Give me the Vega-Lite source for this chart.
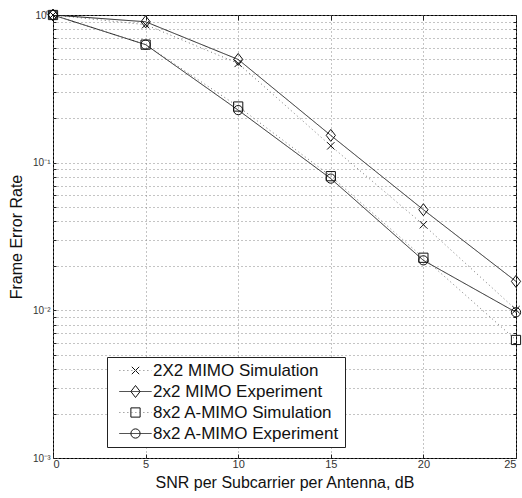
{
  "$schema": "https://vega.github.io/schema/vega-lite/v6.json",
  "autosize": {"type": "none"},
  "width": 463,
  "height": 443,
  "padding": {"left": 53, "top": 15, "right": 6, "bottom": 40},
  "background": "white",
  "config": {
    "font": "Liberation Sans",
    "view": {"stroke": "black", "strokeWidth": 1},
    "axis": {"domain": false, "labelFont": "Liberation Sans", "titleFont": "Liberation Sans", "labelColor": "#333", "titleColor": "#111", "titleFontWeight": "normal", "tickColor": "#222"}
  },
  "data": {"values": [
    {"snr": 0, "fer": 1.0, "line": "s1", "name": "2X2 MIMO Simulation"},
    {"snr": 5, "fer": 0.86, "line": "s1", "name": "2X2 MIMO Simulation"},
    {"snr": 10, "fer": 0.47, "line": "s1", "name": "2X2 MIMO Simulation"},
    {"snr": 15, "fer": 0.13, "line": "s1", "name": "2X2 MIMO Simulation"},
    {"snr": 20, "fer": 0.038, "line": "s1", "name": "2X2 MIMO Simulation"},
    {"snr": 25, "fer": 0.0101, "line": "s1", "name": "2X2 MIMO Simulation"},
    {"snr": 0, "fer": 1.0, "line": "s2", "name": "2x2 MIMO Experiment"},
    {"snr": 5, "fer": 0.9, "line": "s2", "name": "2x2 MIMO Experiment"},
    {"snr": 10, "fer": 0.5, "line": "s2", "name": "2x2 MIMO Experiment"},
    {"snr": 15, "fer": 0.153, "line": "s2", "name": "2x2 MIMO Experiment"},
    {"snr": 20, "fer": 0.048, "line": "s2", "name": "2x2 MIMO Experiment"},
    {"snr": 25, "fer": 0.0157, "line": "s2", "name": "2x2 MIMO Experiment"},
    {"snr": 0, "fer": 1.0, "line": "s3", "name": "8x2 A-MIMO Simulation"},
    {"snr": 5, "fer": 0.63, "line": "s3", "name": "8x2 A-MIMO Simulation"},
    {"snr": 10, "fer": 0.24, "line": "s3", "name": "8x2 A-MIMO Simulation"},
    {"snr": 15, "fer": 0.081, "line": "s3", "name": "8x2 A-MIMO Simulation"},
    {"snr": 20, "fer": 0.0227, "line": "s3", "name": "8x2 A-MIMO Simulation"},
    {"snr": 25, "fer": 0.0063, "line": "s3", "name": "8x2 A-MIMO Simulation"},
    {"snr": 0, "fer": 1.0, "line": "s4", "name": "8x2 A-MIMO Experiment"},
    {"snr": 5, "fer": 0.63, "line": "s4", "name": "8x2 A-MIMO Experiment"},
    {"snr": 10, "fer": 0.227, "line": "s4", "name": "8x2 A-MIMO Experiment"},
    {"snr": 15, "fer": 0.078, "line": "s4", "name": "8x2 A-MIMO Experiment"},
    {"snr": 20, "fer": 0.0218, "line": "s4", "name": "8x2 A-MIMO Experiment"},
    {"snr": 25, "fer": 0.0097, "line": "s4", "name": "8x2 A-MIMO Experiment"}
  ]},
  "layer": [
    {
      "mark": {"type": "line", "strokeWidth": 1, "clip": true},
      "encoding": {
        "x": {"field": "snr", "type": "quantitative",
          "scale": {"domain": [0, 25], "nice": false, "zero": false},
          "axis": {"orient": "bottom", "values": [0, 5, 10, 15, 20, 25], "title": "SNR per Subcarrier per Antenna, dB",
            "titleFontSize": 16, "titlePadding": 5, "labelFontSize": 11, "labelPadding": 4, "tickSize": -4,
            "grid": true, "gridDash": [1, 3], "gridColor": "#888", "gridWidth": 1}},
        "y": {"field": "fer", "type": "quantitative",
          "scale": {"type": "log", "domain": [0.001, 1], "nice": false},
          "axis": {"orient": "left", "title": "Frame Error Rate", "titleFontSize": 16, "titlePadding": 8,
            "values": [0.001, 0.002, 0.003, 0.004, 0.005, 0.006, 0.007, 0.008, 0.009, 0.01, 0.02, 0.03, 0.04, 0.05, 0.06, 0.07, 0.08, 0.09, 0.1, 0.2, 0.3, 0.4, 0.5, 0.6, 0.7, 0.8, 0.9, 1],
            "labelExpr": "datum.value == 1 ? '10⁰' : datum.value == 0.1 ? '10⁻¹' : datum.value == 0.01 ? '10⁻²' : datum.value == 0.001 ? '10⁻³' : ''",
            "labelFontSize": 10, "labelPadding": 6, "tickSize": -3,
            "grid": true, "gridDash": [1, 3], "gridColor": "#888", "gridWidth": 1}},
        "stroke": {"field": "line", "type": "nominal",
          "scale": {"domain": ["s1", "s2", "s3", "s4"], "range": ["#777", "#222", "#777", "#222"]},
          "legend": {"orient": "none", "legendX": 54, "legendY": 342, "title": null, "symbolType": "M-3.5,0L3.5,0", "symbolSize": 85, "symbolStrokeWidth": 1, "symbolOffset": 15, "padding": 5, "labelFontSize": 17, "labelExpr": "''", "rowPadding": 3, "zindex": 2}},
        "strokeDash": {"field": "line", "type": "nominal",
          "scale": {"domain": ["s1", "s2", "s3", "s4"], "range": [[1, 3], [1, 0], [1, 3], [1, 0]]},
          "legend": {"orient": "none", "legendX": 54, "legendY": 342, "title": null, "symbolType": "M-3.5,0L3.5,0", "symbolSize": 85, "symbolStrokeWidth": 1, "symbolOffset": 15, "padding": 5, "labelFontSize": 17, "labelExpr": "''", "rowPadding": 3, "zindex": 2}}
      }
    },
    {
      "mark": {"type": "point", "filled": false, "color": "#111", "strokeWidth": 1, "size": 85, "opacity": 1, "clip": false},
      "encoding": {
        "x": {"field": "snr", "type": "quantitative",
          "axis": {"orient": "top", "values": [0, 5, 10, 15, 20, 25], "labels": false, "title": null, "grid": false, "tickSize": -5}},
        "y": {"field": "fer", "type": "quantitative",
          "axis": {"orient": "right", "title": null, "labels": false, "grid": false, "tickSize": -3,
            "values": [0.001, 0.002, 0.003, 0.004, 0.005, 0.006, 0.007, 0.008, 0.009, 0.01, 0.02, 0.03, 0.04, 0.05, 0.06, 0.07, 0.08, 0.09, 0.1, 0.2, 0.3, 0.4, 0.5, 0.6, 0.7, 0.8, 0.9, 1]}},
        "shape": {"field": "name", "type": "nominal",
          "scale": {"domain": ["2X2 MIMO Simulation", "2x2 MIMO Experiment", "8x2 A-MIMO Simulation", "8x2 A-MIMO Experiment"],
            "range": ["M-0.8,-0.8L0.8,0.8M-0.8,0.8L0.8,-0.8", "M0,-1.3L1,0L0,1.3L-1,0Z", "square", "circle"]},
          "legend": {"orient": "none", "legendX": 54, "legendY": 342, "title": null, "padding": 5, "symbolOffset": 15, "labelOffset": 9, "labelFontSize": 17, "labelColor": "#111", "labelLimit": 300, "rowPadding": 3,
            "strokeColor": "#222", "fillColor": "white", "symbolStrokeColor": "#111", "symbolStrokeWidth": 1, "symbolSize": 85, "symbolFillColor": "white", "zindex": 0}}
      }
    }
  ],
  "resolve": {"axis": {"x": "independent", "y": "independent"}}
}
